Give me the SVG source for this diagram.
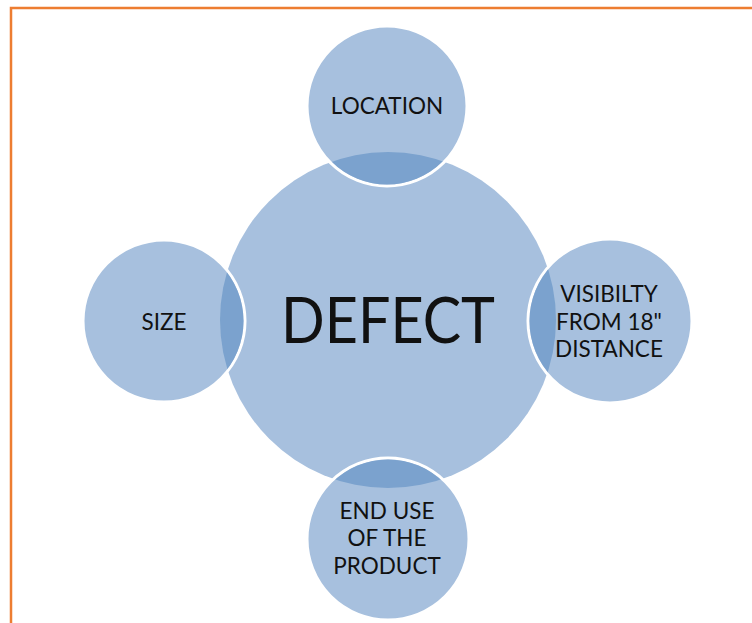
<svg xmlns="http://www.w3.org/2000/svg" width="752" height="623" viewBox="0 0 752 623">
<style>
.sat{fill:#A7C0DE;stroke:#FFFFFF;stroke-width:3}
.lens{fill:#7BA2CE}
.main{fill:#A7C0DE}
.lbl{font-family:Lato,"Liberation Sans",sans-serif;font-size:22.5px;fill:#111111;text-anchor:middle}
.big{font-family:Lato,"Liberation Sans",sans-serif;font-size:64px;fill:#111111;text-anchor:middle}
</style>
<defs>
<clipPath id="cMain"><circle cx="388" cy="320" r="168"/></clipPath>
</defs>
<rect width="752" height="623" fill="#FFFFFF"/>
<path d="M11 623 V8 H752" fill="none" stroke="#ED7D31" stroke-width="2.5"/>
<g id="defect">
<circle class="main" cx="388" cy="320" r="168"/>
</g>
<g id="connectors"/>
<g id="location">
<circle class="sat" cx="387" cy="106" r="80"/>
<circle class="lens" cx="387" cy="106" r="78.5" clip-path="url(#cMain)"/>
<text class="lbl" x="387" y="114">LOCATION</text>
</g>
<g id="size">
<circle class="sat" cx="164" cy="321" r="81"/>
<circle class="lens" cx="164" cy="321" r="79.5" clip-path="url(#cMain)"/>
<text class="lbl" x="164" y="330">SIZE</text>
</g>
<g id="visibility">
<circle class="sat" cx="610" cy="321" r="82"/>
<circle class="lens" cx="610" cy="321" r="80.5" clip-path="url(#cMain)"/>
<text class="lbl" x="609" y="302">VISIBILTY</text>
<text class="lbl" x="609" y="330">FROM 18"</text>
<text class="lbl" x="609" y="357">DISTANCE</text>
</g>
<g id="enduse">
<circle class="sat" cx="388" cy="539" r="81"/>
<circle class="lens" cx="388" cy="539" r="79.5" clip-path="url(#cMain)"/>
<text class="lbl" x="387" y="519">END USE</text>
<text class="lbl" x="387" y="546">OF THE</text>
<text class="lbl" x="387" y="574">PRODUCT</text>
</g>
<text class="big" x="388" y="343" textLength="214" lengthAdjust="spacingAndGlyphs">DEFECT</text>
</svg>
